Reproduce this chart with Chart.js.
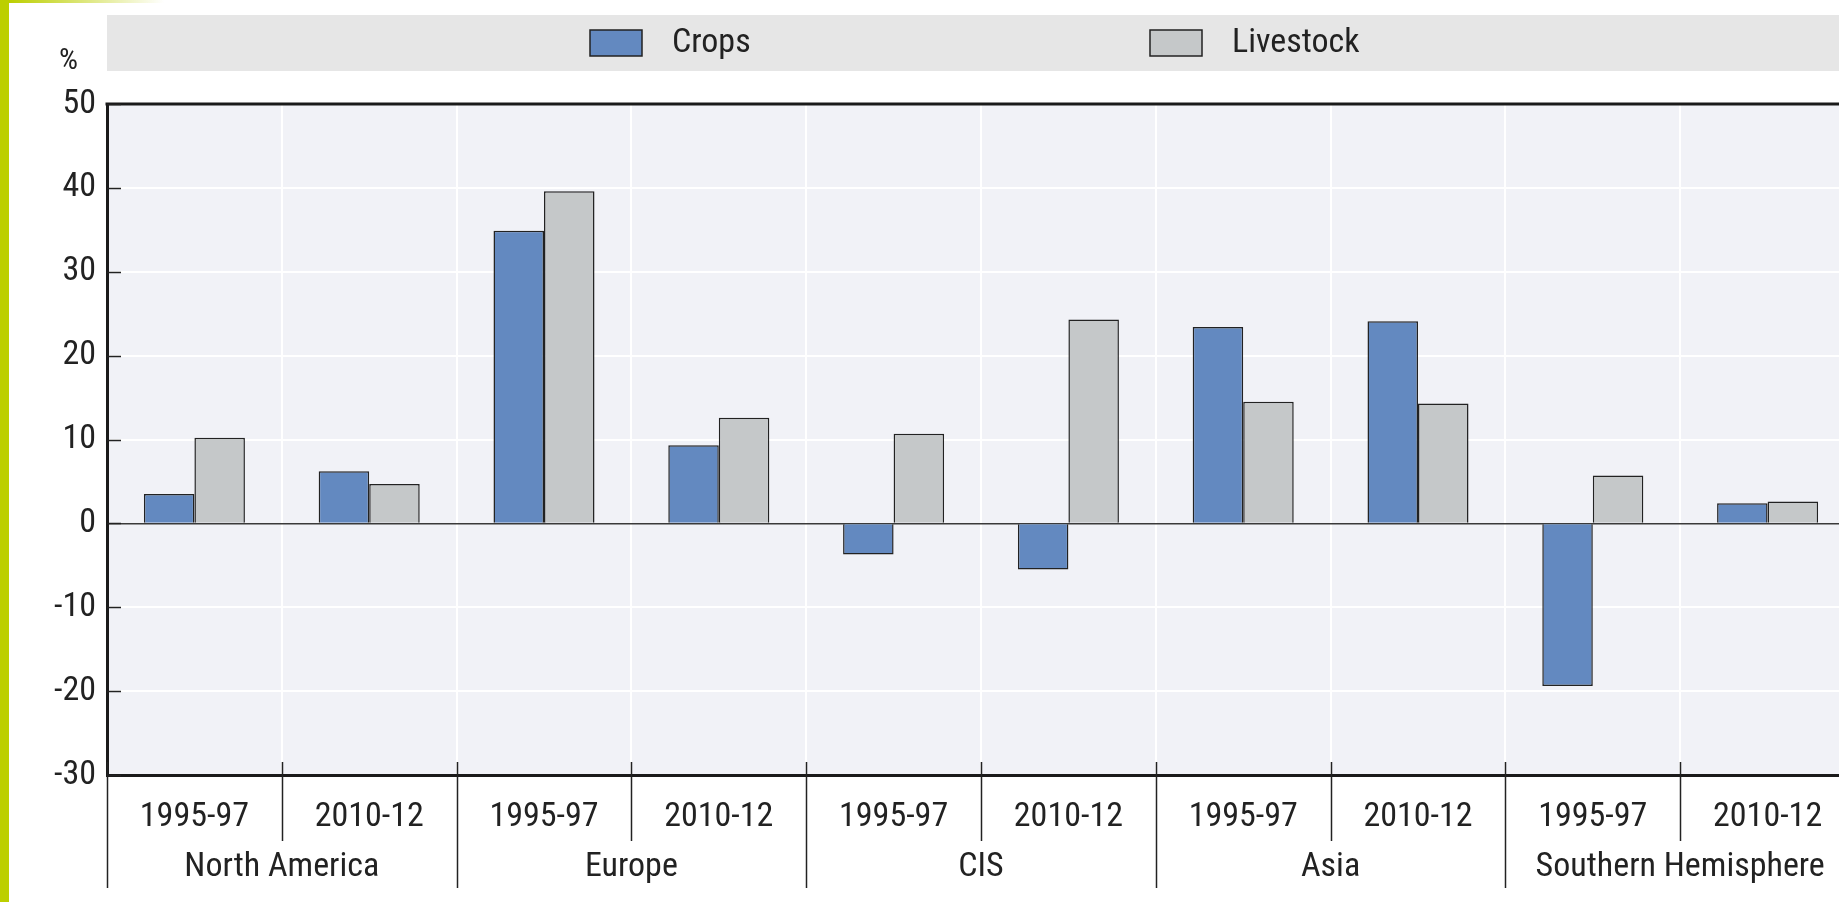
<!DOCTYPE html>
<html>
<head>
<meta charset="utf-8">
<script src="https://cdn.jsdelivr.net/npm/chart.js@4.4.0/dist/chart.umd.min.js"></script>
<style>
    html, body { margin: 0; padding: 0; background: #fff; overflow: hidden; }
    #wrap { position: relative; width: 1839px; height: 902px; overflow: hidden; }
    #myChart { position: absolute; left: 0; top: 0; }
    #edge { position: absolute; left: 0; top: 0; width: 9px; height: 902px; background: #bccf00; }
    #fade { position: absolute; left: 9px; top: 0; width: 155px; height: 3px; background: linear-gradient(to right, #bccf00, #fff); }
</style>
</head>
<body>
<div id="wrap">
    <canvas id="myChart" width="1870" height="902"></canvas>
    <div id="edge"></div>
    <div id="fade"></div>
</div>
<script>
const periods = ['1995-97', '2010-12', '1995-97', '2010-12', '1995-97', '2010-12', '1995-97', '2010-12', '1995-97', '2010-12'];
const regions = ['North America', 'Europe', 'CIS', 'Asia', 'Southern Hemisphere'];
const crops = [3.5, 6.2, 34.9, 9.3, -3.7, -5.5, 23.4, 24.1, -19.4, 2.4];
const livestock = [10.2, 4.7, 39.6, 12.6, 10.7, 24.3, 14.5, 14.3, 5.7, 2.6];
const yMin = -30;
const yMax = 50;
const yStep = 10;

const FONT = "'Roboto Condensed', 'Liberation Sans Narrow', 'DejaVu Sans Condensed', sans-serif";
const ink = '#222222';

// background, frame, inner ticks, separators, legend band
const frame = {
    id: 'frame',
    beforeDraw(chart) {
        const { ctx, chartArea: a } = chart;
        ctx.save();
        ctx.fillStyle = '#f1f2f7';
        ctx.fillRect(a.left, a.top, a.right - a.left, a.bottom - a.top);
        ctx.restore();
    },
    afterDraw(chart) {
        const { ctx, chartArea: a } = chart;
        const x = chart.scales.x;
        const y = chart.scales.y;
        ctx.save();

        // top border
        ctx.strokeStyle = '#1a1a1a';
        ctx.lineWidth = 3;
        ctx.beginPath();
        ctx.moveTo(a.left - 1.5, a.top);
        ctx.lineTo(a.right, a.top);
        ctx.stroke();

        // y ticks pointing inwards
        ctx.strokeStyle = ink;
        ctx.lineWidth = 1.5;
        y.ticks.forEach(t => {
            const py = Math.round(y.getPixelForValue(t.value)) + 0.5;
            ctx.beginPath();
            ctx.moveTo(a.left, py);
            ctx.lineTo(a.left + 14, py);
            ctx.stroke();
        });

        // category / region separators
        const half = (x.getPixelForValue(1) - x.getPixelForValue(0)) / 2;
        for (let i = 0; i <= periods.length; i++) {
            const px = Math.round(x.getPixelForValue(i) - half) + 0.5;
            const end = i % 2 === 0 ? a.bottom + 113 : a.bottom + 66;
            ctx.beginPath();
            ctx.moveTo(px, a.bottom - 13);
            ctx.lineTo(px, end);
            ctx.stroke();
        }

        // unit label
        ctx.fillStyle = ink;
        ctx.font = '30px ' + FONT;
        ctx.textAlign = 'right';
        ctx.textBaseline = 'middle';
        ctx.fillText('%', 78, 61);

        // legend band
        ctx.fillStyle = '#e6e6e6';
        ctx.fillRect(a.left, 15, chart.width - a.left, 56);
        const legendX = [590, 1150];
        chart.data.datasets.forEach((ds, i) => {
            ctx.fillStyle = ds.backgroundColor;
            ctx.fillRect(legendX[i], 30, 52, 26);
            ctx.strokeStyle = ink;
            ctx.lineWidth = 1.5;
            ctx.strokeRect(legendX[i], 30, 52, 26);
            ctx.fillStyle = ink;
            ctx.font = '34px ' + FONT;
            ctx.textAlign = 'left';
            ctx.fillText(ds.label, legendX[i] + 82, 43);
        });
        ctx.restore();
    }
};

const ctx = document.getElementById('myChart').getContext('2d');
const myChart = new Chart(ctx, {
    type: 'bar',
    data: {
        labels: periods,
        datasets: [{
            label: 'Crops',
            data: crops,
            backgroundColor: '#6389c0',
            borderColor: ink,
            borderWidth: 1.5,
            categoryPercentage: 0.578,
            barPercentage: 1
        }, {
            label: 'Livestock',
            data: livestock,
            backgroundColor: '#c5c8c9',
            borderColor: ink,
            borderWidth: 1.5,
            categoryPercentage: 0.578,
            barPercentage: 1
        }]
    },
    options: {
        responsive: false,
        animation: false,
        devicePixelRatio: 1,
        layout: { padding: { top: 104, right: 15, bottom: 0, left: 0 } },
        plugins: {
            legend: { display: false },
            tooltip: { enabled: false }
        },
        scales: {
            x: {
                type: 'category',
                position: 'bottom',
                weight: 0,
                offset: true,
                grid: { color: '#ffffff', lineWidth: 2, offset: true, drawTicks: false },
                border: { color: '#1a1a1a', width: 3 },
                ticks: { color: ink, font: { family: FONT, size: 34 }, padding: 22, maxRotation: 0, autoSkip: false },
                afterFit: s => { s.height = 66; }
            },
            x2: {
                type: 'category',
                position: 'bottom',
                weight: 1,
                labels: regions,
                offset: true,
                grid: { display: false },
                border: { display: false },
                ticks: { color: ink, font: { family: FONT, size: 34 }, padding: -2, maxRotation: 0, autoSkip: false },
                afterFit: s => { s.height = 61; }
            },
            y: {
                min: yMin,
                max: yMax,
                grid: {
                    color: c => c.tick.value === 0 ? '#3a3a3a' : '#ffffff',
                    lineWidth: c => c.tick.value === 0 ? 1.5 : 2,
                    drawTicks: false
                },
                border: { color: '#1a1a1a', width: 3 },
                ticks: { stepSize: yStep, color: ink, font: { family: FONT, size: 34 }, padding: 11 },
                afterFit: s => { s.width = 107; }
            }
        }
    },
    plugins: [frame]
});
</script>
</body>
</html>
